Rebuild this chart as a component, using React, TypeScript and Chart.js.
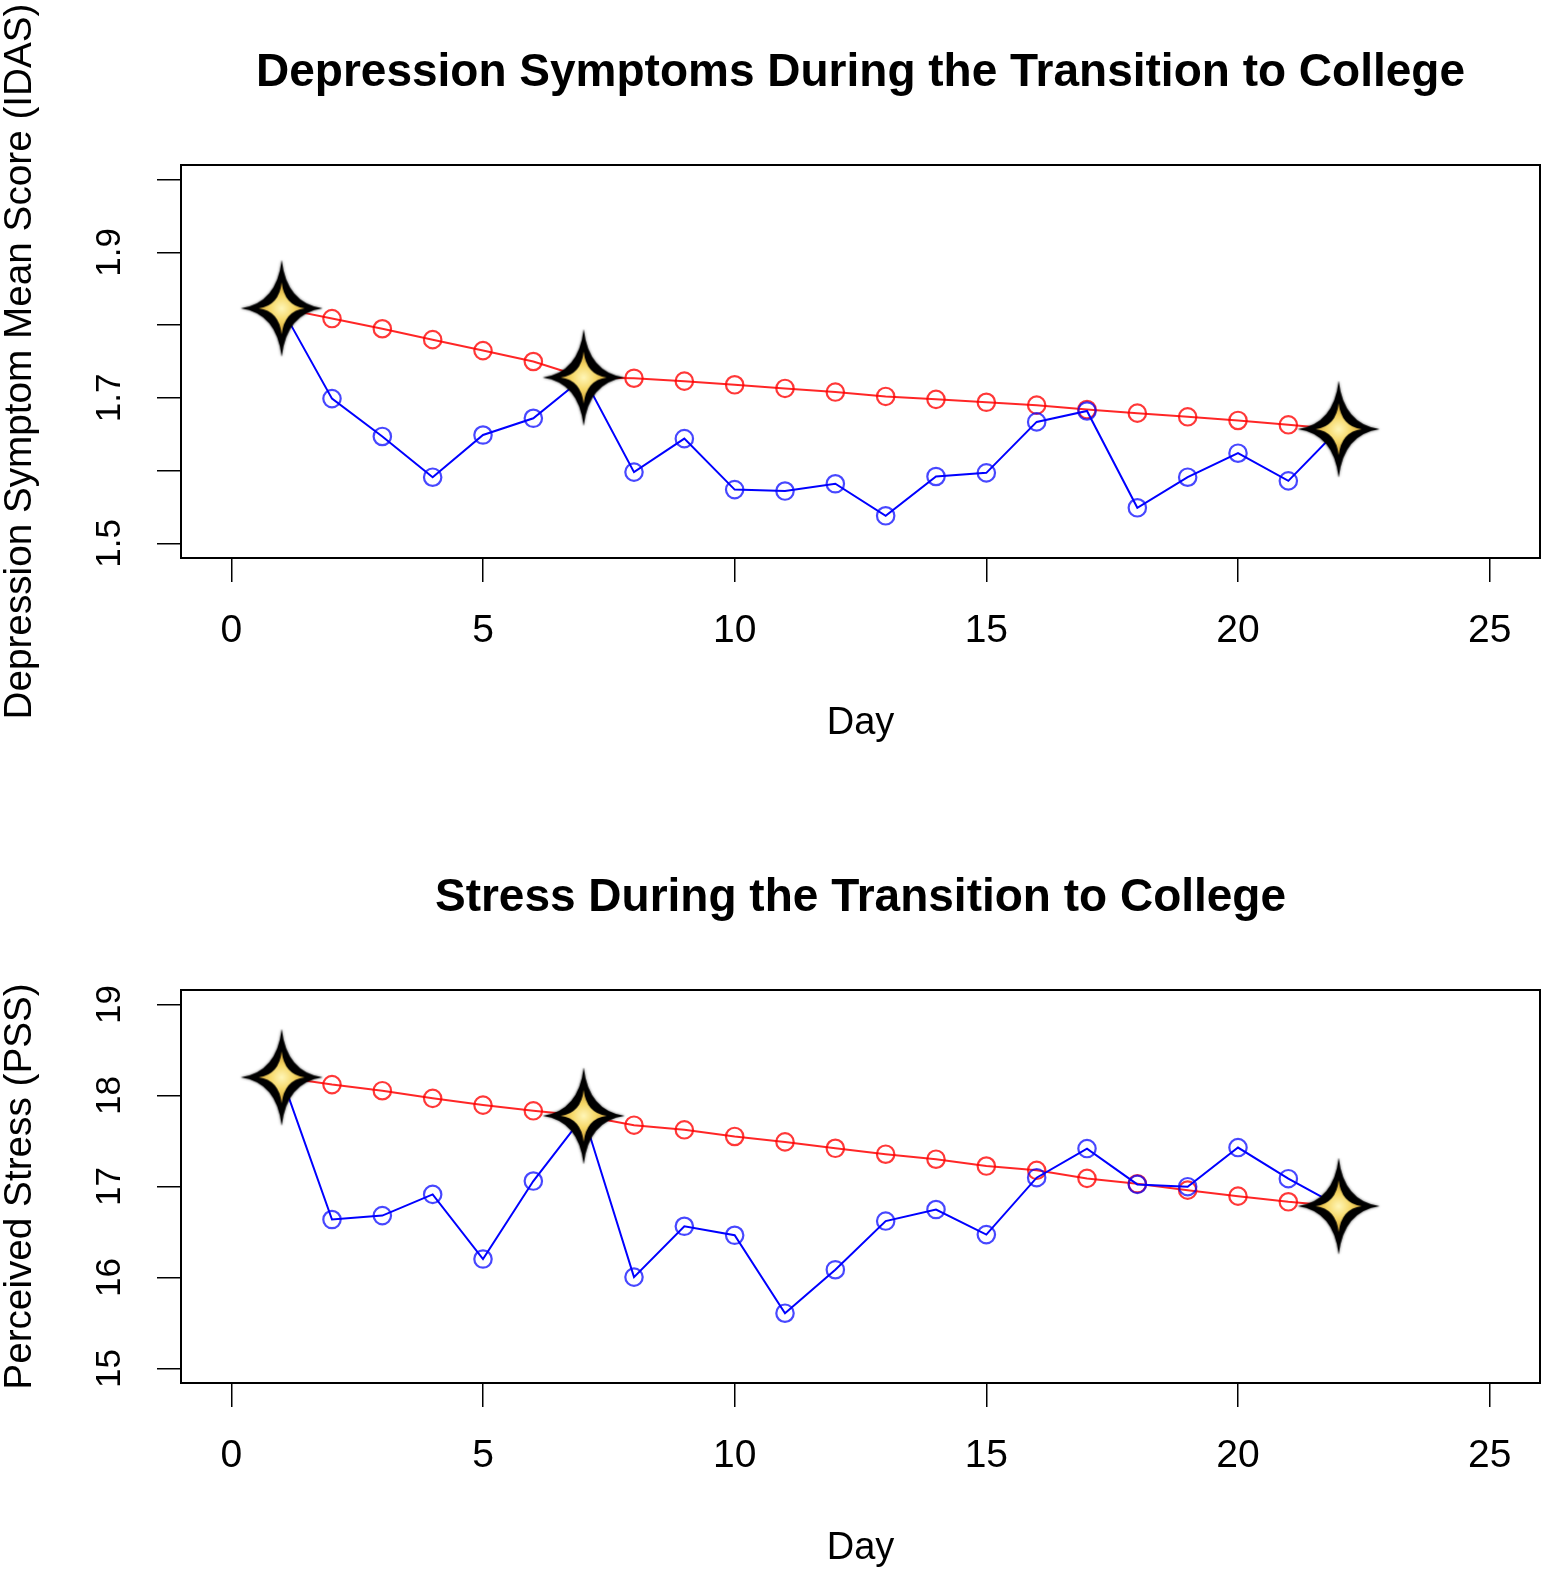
import React, { useEffect, useRef } from "react";
import { Chart, registerables } from "chart.js";

Chart.register(...registerables);

// ---------- data ----------
const days = [1, 2, 3, 4, 5, 6, 7, 8, 9, 10, 11, 12, 13, 14, 15, 16, 17, 18, 19, 20, 21, 22];
const starDays = [1, 7, 22];
const xTicks = [0, 5, 10, 15, 20, 25];

const depObserved = [
  1.823, 1.699, 1.647, 1.591, 1.649, 1.672, 1.728, 1.598, 1.644, 1.574, 1.572,
  1.582, 1.538, 1.592, 1.597, 1.667, 1.682, 1.549, 1.591, 1.624, 1.586, 1.657,
];
const depTrend = [
  1.823, 1.809, 1.795, 1.78, 1.765, 1.75, 1.728, 1.727, 1.723, 1.718, 1.713,
  1.708, 1.702, 1.698, 1.694, 1.69, 1.684, 1.679, 1.674, 1.669, 1.663, 1.657,
];
const depYTicks = [1.5, 1.6, 1.7, 1.8, 1.9, 2.0];
const depYLabels = ["1.5", "1.7", "1.9"];

const stressObserved = [
  18.2, 16.637, 16.68, 16.913, 16.203, 17.06, 17.777, 16.004, 16.563, 16.464, 15.607,
  16.085, 16.62, 16.747, 16.471, 17.097, 17.417, 17.023, 16.998, 17.428, 17.086, 16.784,
];
const stressTrend = [
  18.2, 18.12, 18.053, 17.969, 17.895, 17.832, 17.777, 17.674, 17.623, 17.55, 17.49,
  17.42, 17.355, 17.3, 17.225, 17.178, 17.089, 17.03, 16.96, 16.894, 16.832, 16.784,
];
const stressYTicks = [15, 16, 17, 18, 19];
const stressYLabels = ["15", "16", "17", "18", "19"];

// ---------- style ----------
const FONT = '"Liberation Sans", Arial, Helvetica, sans-serif';
const W = 1543;
const H = 745;

function makeStar(): HTMLCanvasElement {
  const c = document.createElement("canvas");
  c.width = 90;
  c.height = 104;
  const g = c.getContext("2d")!;
  const cx = 45;
  const cy = 52;
  const path = (hx: number, vy: number, k: number) => {
    g.beginPath();
    g.moveTo(cx, cy - vy);
    g.quadraticCurveTo(cx + k, cy - k, cx + hx, cy);
    g.quadraticCurveTo(cx + k, cy + k, cx, cy + vy);
    g.quadraticCurveTo(cx - k, cy + k, cx - hx, cy);
    g.quadraticCurveTo(cx - k, cy - k, cx, cy - vy);
    g.closePath();
  };
  g.save();
  g.shadowColor = "rgba(0,0,0,0.6)";
  g.shadowBlur = 3;
  g.fillStyle = "#000";
  path(41, 48.5, 5);
  g.fill();
  g.restore();
  const grad = g.createRadialGradient(cx, cy, 0, cx, cy, 24);
  grad.addColorStop(0, "#fff6b8");
  grad.addColorStop(0.5, "#f6d868");
  grad.addColorStop(1, "#d0a030");
  g.fillStyle = grad;
  path(23, 26, 2.6);
  g.fill();
  return c;
}

const decorPlugin = {
  id: "decor",
  afterDatasetsDraw(chart: any, _args: any, opts: any) {
    const { ctx, chartArea } = chart;
    ctx.save();
    ctx.strokeStyle = "#000";
    ctx.lineWidth = 2;
    ctx.strokeRect(
      chartArea.left,
      chartArea.top,
      chartArea.right - chartArea.left,
      chartArea.bottom - chartArea.top
    );
    const ys = chart.scales.y;
    ctx.fillStyle = "#000";
    ctx.font = `35px ${FONT}`;
    ctx.textAlign = "center";
    ctx.textBaseline = "middle";
    for (const lab of opts.labels as string[]) {
      const py = ys.getPixelForValue(parseFloat(lab));
      ctx.save();
      ctx.translate(opts.labelX, py);
      ctx.rotate(-Math.PI / 2);
      ctx.fillText(lab, 0, 0);
      ctx.restore();
    }
    ctx.restore();
  },
};

type PanelProps = {
  title: string;
  yTitle: string;
  observed: number[];
  trend: number[];
  yTicks: number[];
  yLabels: string[];
  yMin: number;
  yMax: number;
  top: number;
};

function Panel(p: PanelProps) {
  const ref = useRef<HTMLCanvasElement | null>(null);
  useEffect(() => {
    if (!ref.current) return;
    const star = makeStar();
    const tickGrid = {
      drawOnChartArea: false,
      drawTicks: true,
      tickLength: 24,
      color: "#000",
      lineWidth: 1.5,
    };
    const isStar = (i: number) => starDays.includes(days[i]);
    const chart = new Chart(ref.current, {
      type: "line",
      data: {
        datasets: [
          {
            label: "stars",
            data: starDays.map((d) => ({ x: d, y: p.observed[days.indexOf(d)] })),
            showLine: false,
            pointStyle: star as any,
            pointRadius: 10,
            order: 0,
          },
          {
            label: "observed",
            data: days.map((d, i) => ({ x: d, y: p.observed[i] })),
            borderColor: "#0000ff",
            borderWidth: 2,
            pointRadius: (c: any) => (isStar(c.dataIndex) ? 0 : 8.7),
            pointBorderColor: "rgba(0,0,255,0.72)",
            pointBackgroundColor: "rgba(0,0,0,0)",
            pointBorderWidth: 2.2,
            tension: 0,
            order: 1,
          },
          {
            label: "trend",
            data: days.map((d, i) => ({ x: d, y: p.trend[i] })),
            borderColor: "rgba(255,0,0,0.85)",
            borderWidth: 2,
            pointRadius: (c: any) => (isStar(c.dataIndex) ? 0 : 8.7),
            pointBorderColor: "rgba(255,0,0,0.78)",
            pointBackgroundColor: "rgba(0,0,0,0)",
            pointBorderWidth: 2.2,
            tension: 0,
            order: 2,
          },
        ],
      },
      options: {
        animation: false,
        responsive: false,
        events: [],
        layout: { autoPadding: false, padding: { left: 0, right: 3, top: 0, bottom: 0 } },
        plugins: {
          legend: { display: false },
          tooltip: { enabled: false },
          title: {
            display: true,
            text: p.title,
            fullSize: false,
            color: "#000",
            font: { family: FONT, size: 46, weight: "bold", lineHeight: 1.2 },
            padding: { top: 46, bottom: 63.8 },
          },
          decor: { labels: p.yLabels, labelX: 110 },
        } as any,
        scales: {
          x: {
            type: "linear",
            min: -1,
            max: 26,
            afterBuildTicks: (s: any) => {
              s.ticks = xTicks.map((v) => ({ value: v }));
            },
            afterFit: (s: any) => {
              s.height = H - 558;
              s.paddingLeft = 0;
              s.paddingRight = 0;
            },
            ticks: {
              color: "#000",
              font: { family: FONT, size: 39, lineHeight: 1.2 },
              padding: 25.6,
              maxRotation: 0,
              autoSkip: false,
              callback: (v: any) => String(v),
            },
            grid: tickGrid,
            border: { display: false },
            title: {
              display: true,
              text: "Day",
              color: "#000",
              font: { family: FONT, size: 38, lineHeight: 1.0 },
              padding: { top: 0, bottom: 2 },
            },
          },
          y: {
            type: "linear",
            min: p.yMin,
            max: p.yMax,
            afterBuildTicks: (s: any) => {
              s.ticks = p.yTicks.map((v) => ({ value: v }));
            },
            afterFit: (s: any) => {
              s.width = 181;
            },
            ticks: { callback: () => "" },
            grid: tickGrid,
            border: { display: false },
            title: {
              display: true,
              text: p.yTitle,
              color: "#000",
              font: { family: FONT, size: 38.7, lineHeight: 1 },
              padding: { top: 1, bottom: 0 },
            },
          },
        },
      } as any,
      plugins: [decorPlugin as any],
    });
    return () => chart.destroy();
  }, []);
  return (
    <canvas
      ref={ref}
      width={W}
      height={H}
      style={{ position: "absolute", left: 0, top: p.top, width: W, height: H }}
    />
  );
}

export default function App() {
  return (
    <div
      style={{
        position: "absolute",
        left: 0,
        top: 0,
        width: W,
        height: 1570,
        background: "#fff",
      }}
    >
      <Panel
        title="Depression Symptoms During the Transition to College"
        yTitle="Depression Symptom Mean Score (IDAS)"
        observed={depObserved}
        trend={depTrend}
        yTicks={depYTicks}
        yLabels={depYLabels}
        yMin={1.48}
        yMax={2.02}
        top={0}
      />
      <Panel
        title="Stress During the Transition to College"
        yTitle="Perceived Stress (PSS)"
        observed={stressObserved}
        trend={stressTrend}
        yTicks={stressYTicks}
        yLabels={stressYLabels}
        yMin={14.84}
        yMax={19.16}
        top={825}
      />
    </div>
  );
}
